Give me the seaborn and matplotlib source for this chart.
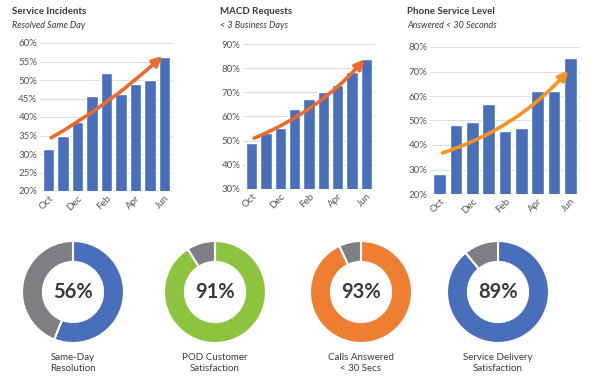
import numpy as np
import matplotlib
matplotlib.use('Agg')
import matplotlib.pyplot as plt
import seaborn as sns
import pandas as pd
from matplotlib.patches import FancyArrowPatch

#%% data
months = ['Oct', 'Nov', 'Dec', 'Jan', 'Feb', 'Mar', 'Apr', 'May', 'Jun']
incidents = [31.4, 35.0, 38.6, 45.7, 51.9, 46.1, 48.8, 50.1, 56.3]
macd = [49.2, 53.0, 55.4, 63.2, 67.1, 70.1, 72.9, 78.6, 83.7]
phone = [28.0, 48.0, 49.5, 56.9, 45.7, 47.0, 62.1, 62.0, 75.6]

bar_titles = ['Service Incidents', 'MACD Requests', 'Phone Service Level']
bar_subtitles = ['Resolved Same Day', '< 3 Business Days', 'Answered < 30 Seconds']
y_limits = [(20, 60), (30, 90), (20, 80)]
y_steps = [5, 10, 10]
# trend arrows: (start value, end value)
trend_start = [34.0, 50.6, 36.4]
trend_end = [57.0, 84.5, 71.2]

donut_values = [56, 91, 93, 89]
donut_labels = ['Same-Day\nResolution', 'POD Customer\nSatisfaction',
                'Calls Answered\n< 30 Secs', 'Service Delivery\nSatisfaction']

#%% style
sns.set_style('white')
plt.rcParams['font.family'] = ['Lato', 'DejaVu Sans']
blue = '#4A6FBA'
gray = '#7E7F83'
arrow_cols = ['#EC6A2C', '#EC6A2C', '#F6941F']
donut_cols = [blue, '#8DC43F', '#ED7E32', blue]
txt = '#3A3A3A'

W, H = 590, 380
fig = plt.figure(figsize=(W / 100, H / 100), dpi=100)

def px_axes(x0, y0, x1, y1):
    # pixel box (top-left origin) -> figure fraction axes
    return fig.add_axes([x0 / W, 1 - y1 / H, (x1 - x0) / W, (y1 - y0) / H])

#%% bar charts
boxes = [(40, 43, 173, 191), (243, 44, 375, 189), (430, 47, 580, 194)]
title_x = [12, 220, 407]
series = [incidents, macd, phone]
for i in range(3):
    ax = px_axes(*boxes[i])
    df = pd.DataFrame({'month': months, 'value': series[i]})
    sns.barplot(data=df, x='month', y='value', color=blue, width=0.78,
                saturation=1, ax=ax, zorder=2)
    lo, hi = y_limits[i]
    ax.set_ylim(lo, hi)
    ticks = np.arange(lo, hi + 1, y_steps[i])
    ax.set_yticks(ticks)
    ax.set_yticklabels(['%d%%' % t for t in ticks], fontsize=7, color='#555555')
    ax.set_xticks(range(0, 9, 2))
    ax.set_xticklabels(months[::2], rotation=45, fontsize=7, color='#555555',
                       ha='right', rotation_mode='anchor')
    ax.set_xlim(-0.6, 8.6)
    ax.set_xlabel('')
    ax.set_ylabel('')
    ax.grid(axis='y', color='#DDDDDD', lw=0.8, zorder=0)
    ax.tick_params(length=0, pad=2)
    for s in ax.spines.values():
        s.set_visible(False)
    arr = FancyArrowPatch((0, trend_start[i]), (8, trend_end[i]),
                          connectionstyle='arc3,rad=%.2f' % [0.06, 0.12, 0.14][i],
                          arrowstyle='-|>', mutation_scale=14, lw=2.6,
                          color=arrow_cols[i], zorder=3)
    ax.add_patch(arr)
    fig.text(title_x[i] / W, 1 - 12 / H, bar_titles[i], fontsize=7,
             fontweight='bold', color=txt, va='center')
    fig.text(title_x[i] / W, 1 - 26 / H, bar_subtitles[i], fontsize=6.5,
             style='italic', color=txt, va='center')

#%% donuts
centers = [73, 215, 361, 498]
for i in range(4):
    ax = px_axes(centers[i] - 51, 241, centers[i] + 51, 343)
    v = donut_values[i]
    ax.pie([v, 100 - v], colors=[donut_cols[i], gray], startangle=90,
           counterclock=False, radius=1,
           wedgeprops=dict(width=0.41, edgecolor='white', linewidth=1.5))
    ax.set_xlim(-1, 1)
    ax.set_ylim(-1, 1)
    ax.set_aspect('equal')
    ax.text(0, 0, '%d%%' % v, ha='center', va='center', fontsize=14.5,
            fontweight='bold', color=txt)
    fig.text(centers[i] / W, 1 - 363 / H, donut_labels[i], ha='center',
             va='center', fontsize=7, color=txt, linespacing=1.3)

fig.savefig('out.png', dpi=100)
